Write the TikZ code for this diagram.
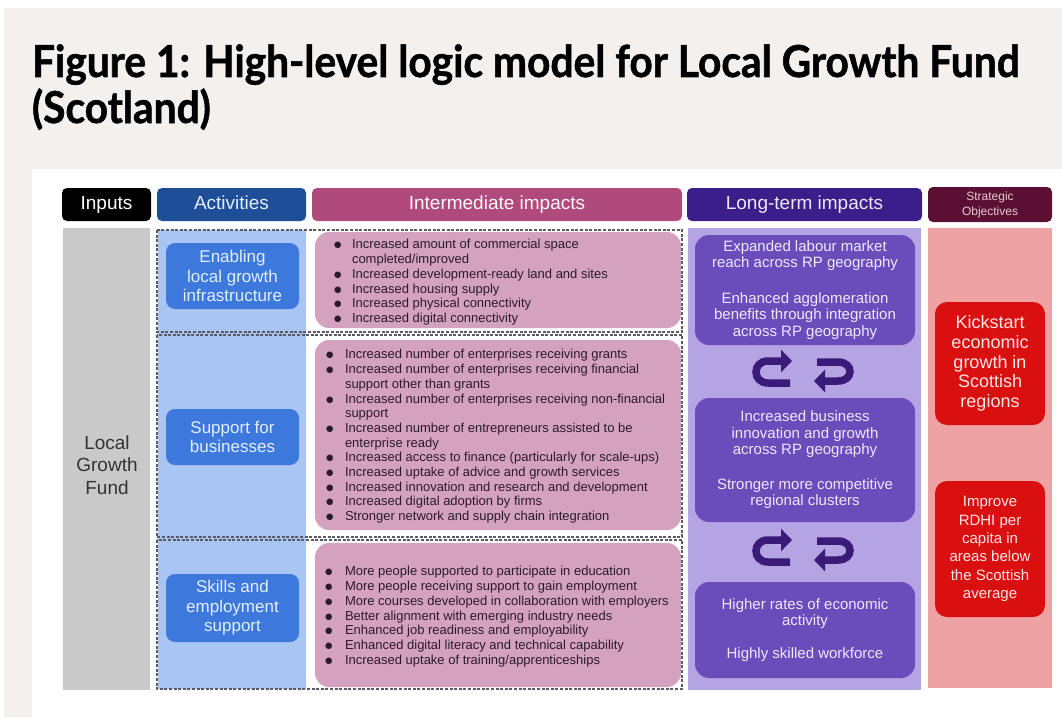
\documentclass[tikz,border=0pt]{standalone}
\usepackage{fontspec}
\setmainfont{Liberation Sans}
\newfontfamily\titlefont[FakeStretch=0.925,FakeBold=1.2]{Lato}
\newfontfamily\dejavu{DejaVu Sans}
\usetikzlibrary{arrows.meta}
\definecolor{pagebg}{HTML}{F3F0ED}
\definecolor{actblue}{HTML}{1F4E99}
\definecolor{intmauve}{HTML}{B14A7C}
\definecolor{ltpurple}{HTML}{3B1E8A}
\definecolor{somaroon}{HTML}{5B1033}
\definecolor{graycol}{HTML}{C9C9C9}
\definecolor{lightblue}{HTML}{A9C5F3}
\definecolor{btnblue}{HTML}{3D78DC}
\definecolor{btntext}{HTML}{E3EEFF}
\definecolor{pinkfill}{HTML}{D4A2BF}
\definecolor{itemtext}{HTML}{2B1B28}
\definecolor{ltcol}{HTML}{B5A4E3}
\definecolor{ltfill}{HTML}{6A4CBB}
\definecolor{lttext}{HTML}{EEE8FF}
\definecolor{cycpurple}{HTML}{3A1B7A}
\definecolor{socol}{HTML}{EEA2A3}
\definecolor{sored}{HTML}{D90F10}
\definecolor{sotext}{HTML}{FFE6E6}
\definecolor{framegray}{HTML}{5A5A66}
\definecolor{sohdrtext}{HTML}{E6C9D3}
\newcommand{\bdot}{\raisebox{1pt}{\fontsize{8.5}{9}\dejavu ●}}
\begin{document}
\begin{tikzpicture}[x=1pt,y=-1pt,
  every node/.style={inner sep=0pt, outer sep=0pt},
  hdr/.style={rounded corners=5pt, minimum height=33pt, text=white,
    font=\fontsize{19}{22}\selectfont, anchor=north west},
  hdrline/.style={text height=13.5pt, text depth=3.5pt},
  colbox/.style={anchor=north west},
  btn/.style={fill=btnblue, rounded corners=9pt, text=btntext,
    font=\fontsize{17}{19.5}\selectfont, align=center, anchor=north west,
    minimum width=133pt},
  pinkbox/.style={fill=pinkfill, rounded corners=14pt, anchor=north west,
    minimum width=366pt},
  itxt/.style={anchor=north west, text=itemtext,
    font=\fontsize{13}{14.7}\selectfont},
  ltbox/.style={fill=ltfill, rounded corners=14pt, anchor=north west,
    minimum width=220pt, text=lttext, font=\fontsize{15}{16.5}\selectfont,
    align=center},
  sobox/.style={fill=sored, rounded corners=12pt, anchor=north west,
    minimum width=110pt, text=sotext, align=center},
  rowframe/.style={draw=framegray, dash pattern=on 3pt off 1.6pt,
    line width=1.2pt},
  cyc/.style={draw=cycpurple, line width=7.5pt,
    -{Triangle[width=22pt,length=11pt]}},
]
\useasboundingbox (0,0) rectangle (1062,717);
\fill[white] (0,0) rectangle (1062,717);
\fill[pagebg] (4,8) rectangle (1062,717);
\fill[white] (32,169) rectangle (1062,717);

% title
\node[anchor=base west] (title1) at (32,77)
  {\titlefont\bfseries\fontsize{44}{48}\selectfont Figure 1: High-level logic model for Local Growth Fund};
\node[anchor=base west] (title2) at (32,123)
  {\titlefont\bfseries\fontsize{44}{48}\selectfont (Scotland)};

% headers
\node[hdr, hdrline, fill=black, minimum width=89pt] (hin) at (62,188) {Inputs};
\node[hdr, hdrline, fill=actblue, minimum width=149pt, text=btntext] (hact) at (157,188) {Activities};
\node[hdr, hdrline, fill=intmauve, minimum width=370pt, text=white!90!pink] (hint) at (312,188) {Intermediate impacts};
\node[hdr, hdrline, fill=ltpurple, minimum width=235pt, text=lttext] (hlt) at (687,188) {Long-term impacts};
\node[hdr, fill=somaroon, minimum width=124pt, minimum height=35pt, text=sohdrtext,
  font=\fontsize{12}{15}\selectfont, align=center] (hso) at (928,187) {Strategic\\Objectives};

% columns
\node[colbox, fill=graycol, minimum width=87pt, minimum height=462pt] (cin) at (63,228) {};
\node[colbox, fill=lightblue, minimum width=148pt, minimum height=459pt] (cact) at (158,230) {};
\node[colbox, fill=ltcol, minimum width=233pt, minimum height=462pt] (clt) at (688,228) {};
\node[colbox, fill=socol, minimum width=124pt, minimum height=460pt] (cso) at (928,228) {};

\node[text=black!80, font=\fontsize{19}{22.5}\selectfont, align=center] (lgf) at (107,465)
  {Local\\Growth\\Fund};

% row frames
\draw[rowframe] (157,230) rectangle (682,332);
\draw[rowframe] (157,335) rectangle (682,537);
\draw[rowframe] (157,540) rectangle (682,689);

% activity buttons
\node[btn, minimum height=66pt] (b1) at (166,243) {Enabling\\local growth\\infrastructure};
\node[btn, minimum height=56pt] (b2) at (166,409) {Support for\\businesses};
\node[btn, minimum height=68pt] (b3) at (166,574) {Skills and\\employment\\support};

% intermediate boxes
\node[pinkbox, minimum height=96pt] (p1) at (315,232) {};
\node[pinkbox, minimum height=190pt] (p2) at (315,340) {};
\node[pinkbox, minimum height=144pt] (p3) at (315,543) {};

\node[itxt] (t1) at (334,238.7) {\begin{tabular}{@{}p{18pt}@{}l@{}}
\bdot & Increased amount of commercial space\\
 & completed/improved\\
\bdot & Increased development-ready land and sites\\
\bdot & Increased housing supply\\
\bdot & Increased physical connectivity\\
\bdot & Increased digital connectivity
\end{tabular}};

\node[itxt] (t2) at (326,348.7) {\begin{tabular}{@{}p{19pt}@{}l@{}}
\bdot & Increased number of enterprises receiving grants\\
\bdot & Increased number of enterprises receiving financial\\
 & support other than grants\\
\bdot & Increased number of enterprises receiving non-financial\\
 & support\\
\bdot & Increased number of entrepreneurs assisted to be\\
 & enterprise ready\\
\bdot & Increased access to finance (particularly for scale-ups)\\
\bdot & Increased uptake of advice and growth services\\
\bdot & Increased innovation and research and development\\
\bdot & Increased digital adoption by firms\\
\bdot & Stronger network and supply chain integration
\end{tabular}};

\node[itxt] (t3) at (325,565.7) {\begin{tabular}{@{}p{20pt}@{}l@{}}
\bdot & More people supported to participate in education\\
\bdot & More people receiving support to gain employment\\
\bdot & More courses developed in collaboration with employers\\
\bdot & Better alignment with emerging industry needs\\
\bdot & Enhanced job readiness and employability\\
\bdot & Enhanced digital literacy and technical capability\\
\bdot & Increased uptake of training/apprenticeships
\end{tabular}};

% long-term boxes
\node[ltbox, minimum height=110pt] (l1) at (695,235)
  {Expanded labour market\\reach across RP geography\\[19pt]Enhanced agglomeration\\benefits through integration\\across RP geography};
\node[ltbox, minimum height=124pt] (l2) at (695,398)
  {Increased business\\innovation and growth\\across RP geography\\[18pt]Stronger more competitive\\regional clusters};
\node[ltbox, minimum height=96pt] (l3) at (695,582)
  {Higher rates of economic\\activity\\[16pt]Highly skilled workforce};

% cycle arrows
\coordinate (cyc1) at (803,371);
\coordinate (cyc2) at (803,550);
\foreach \c in {cyc1,cyc2}{
  \draw[cyc] ([shift={(-13,12)}]\c) -- ([shift={(-35,12)}]\c)
     .. controls ([shift={(-51,12)}]\c) and ([shift={(-51,-10)}]\c) .. ([shift={(-35,-10)}]\c)
     -- ([shift={(-11,-10)}]\c);
  \draw[cyc] ([shift={(14,-9)}]\c) -- ([shift={(35,-9)}]\c)
     .. controls ([shift={(51,-9)}]\c) and ([shift={(51,10)}]\c) .. ([shift={(35,10)}]\c)
     -- ([shift={(11,10)}]\c);
}

% strategic objectives
\node[sobox, minimum height=123pt, font=\fontsize{18}{19.6}\selectfont] (s1) at (935,302)
  {Kickstart\\economic\\growth in\\Scottish\\regions};
\node[sobox, minimum height=136pt, font=\fontsize{15}{18.3}\selectfont] (s2) at (935,481)
  {Improve\\RDHI per\\capita in\\areas below\\the Scottish\\average};
\end{tikzpicture}
\end{document}
